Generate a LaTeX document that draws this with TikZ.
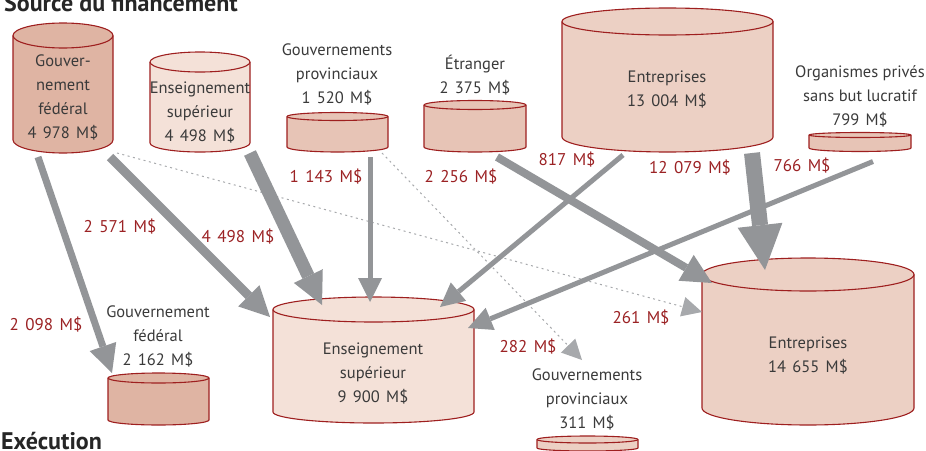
\documentclass[tikz,border=0pt]{standalone}
\usepackage{fontspec}
\setmainfont{PT Sans}
\usetikzlibrary{arrows.meta,positioning}

\definecolor{flowgray}{HTML}{939598}
\definecolor{dotgray}{HTML}{A7A9AC}
\definecolor{drumred}{HTML}{9E1F1F}
\definecolor{valred}{HTML}{9B2224}
\definecolor{textgray}{HTML}{3A3A3A}
\definecolor{fedfill}{HTML}{DFB4A3}
\definecolor{provfill}{HTML}{E7C4B6}
\definecolor{busfill}{HTML}{ECD0C4}
\definecolor{unifill}{HTML}{F4E1D8}

% wide gap in amounts
\newcommand{\gap}{\hspace{0.38em}}

% drum: name, left x, right x, top y, bottom y, top radius, bottom radius, fill
\newcommand{\drum}[8]{%
  \pgfmathsetmacro\drumrx{(#3-#2)/2}%
  \pgfmathsetmacro\drumxc{(#3+#2)/2}%
  \pgfmathsetmacro\drumtop{#4-#6}%
  \pgfmathsetmacro\drumbot{#5+#7}%
  \draw[drumline, fill=#8] (#2,#4) -- (#2,#5)
    arc[start angle=180, end angle=0, x radius=\drumrx, y radius=#7] -- (#3,#4)
    arc[start angle=0, end angle=-180, x radius=\drumrx, y radius=#6] -- cycle;
  \draw[drumline] (#2,#4) arc[start angle=180, end angle=0, x radius=\drumrx, y radius=#6];
  \node[inner sep=0pt, outer sep=0pt, minimum width={2*\drumrx pt},
    minimum height={(\drumbot-\drumtop)*1pt}] (#1) at (\drumxc,{(\drumtop+\drumbot)/2}) {};
}

\begin{document}
\begin{tikzpicture}[x=1pt, y=-1pt,
    drumline/.style={draw=drumred, line width=1.1pt, line join=round},
    flow/.style 2 args={draw=flowgray, line width=#1, -{Triangle[length=#2, width=#2, line width=0pt]}},
    side flow/.style={draw=dotgray, line width=1pt, dash pattern=on 2pt off 3.5pt, -{Triangle[length=#1, width=#1, line width=0pt]}},
    txt/.style={text=textgray, align=center, inner sep=0pt, font=\fontsize{16.5}{24}\selectfont},
    val/.style={text=valred, inner sep=0pt, font=\fontsize{17}{20}\selectfont},
    head/.style={text=black!85, inner sep=0pt, anchor=base west, font=\bfseries\fontsize{24}{28}\selectfont}
  ]
  \useasboundingbox (0,0) rectangle (926,450);

  % sources
  \drum{srcfed}{13}{113}{35.5}{140}{12.5}{13}{fedfill}
  \drum{srcuni}{150}{250}{62}{143}{10}{9}{unifill}
  \drum{srcprov}{287}{388}{116.5}{147}{4}{5}{provfill}
  \drum{srcfor}{424}{526}{105}{147}{4.5}{5}{provfill}
  \drum{srcbus}{562}{773}{21.5}{137}{13.5}{15}{busfill}
  \drum{srcnpo}{809}{911}{135}{148}{2.5}{3.5}{provfill}

  % execution
  \drum{exfed}{108}{209}{378}{420}{5}{5}{fedfill}
  \drum{exuni}{273}{474}{309.5}{412}{12.5}{11}{unifill}
  \drum{exprov}{537}{638}{439.5}{448}{3.5}{3}{busfill}
  \drum{exbus}{702}{914}{274.5}{408}{16.5}{17}{busfill}

  \node[txt] (srcfedtxt) at (63,97) {Gouver-\\nement\\fédéral\\4\gap978\gap M\$};
  \node[txt] (srcunitxt) at (200,112) {Enseignement\\supérieur\\4\gap498\gap M\$};
  \node[txt] (srcprovtxt) at (337,74) {Gouvernements\\provinciaux\\1\gap520\gap M\$};
  \node[txt] (srcfortxt) at (475,75) {Étranger\\2\gap375\gap M\$};
  \node[txt] (srcbustxt) at (667,89) {Entreprises\\13\gap004\gap M\$};
  \node[txt] (srcnpotxt) at (860,96) {Organismes privés\\sans but lucratif\\799\gap M\$};
  \node[txt] (exfedtxt) at (158,336) {Gouvernement\\fédéral\\2\gap162\gap M\$};
  \node[txt] (exunitxt) at (373,373) {Enseignement\\supérieur\\9\gap900\gap M\$};
  \node[txt] (exprovtxt) at (587,399) {Gouvernements\\provinciaux\\311\gap M\$};
  \node[txt] (exbustxt) at (808,355) {Entreprises\\14\gap655\gap M\$};

  % flows
  \draw[side flow=20pt] ([shift={(54,0)}]srcfed.south) -- ([shift={(-106,54)}]exbus.north);
  \draw[side flow=20pt] ([shift={(44.5,1)}]srcprov.south) -- ([shift={(-5.5,-76)}]exprov.north);
  \draw[flow={7pt}{28pt}] ([shift={(-25,4)}]srcfed.south) -- ([shift={(-46.5,0)}]exfed.north);
  \draw[flow={9pt}{30pt}] ([shift={(47,4)}]srcfed.south) -- ([shift={(-103.5,20)}]exuni.north);
  \draw[flow={13pt}{32pt}] ([shift={(50,1)}]srcuni.south) -- ([shift={(-51.5,8)}]exuni.north);
  \draw[flow={5pt}{24pt}] ([shift={(32.5,5)}]srcprov.south) -- ([shift={(-3.5,5)}]exuni.north);
  \draw[flow={8pt}{30pt}] ([shift={(22,5)}]srcfor.south) -- ([shift={(-96,25)}]exbus.north);
  \draw[flow={5pt}{24pt}] ([shift={(-44.5,3)}]srcbus.south) -- ([shift={(66.5,10)}]exuni.north);
  \draw[flow={16pt}{45pt}] ([shift={(84.5,1)}]srcbus.south) -- ([shift={(-43,12)}]exbus.north);
  \draw[flow={5pt}{24pt}] ([shift={(13,10)}]srcnpo.south) -- ([shift={(94.5,31)}]exuni.north);

  % amounts
  \node[val] (v2098) at (46,325) {2\gap098\gap M\$};
  \node[val] (v2571) at (120,227) {2\gap571\gap M\$};
  \node[val] (v4498) at (238,237) {4\gap498\gap M\$};
  \node[val] (v1143) at (326,177) {1\gap143\gap M\$};
  \node[val] (v2256) at (461,177) {2\gap256\gap M\$};
  \node[val] (v817) at (567,160) {817\gap M\$};
  \node[val] (v12079) at (690,168) {12\gap079\gap M\$};
  \node[val] (v766) at (802,166) {766\gap M\$};
  \node[val] (v261) at (641,318) {261\gap M\$};
  \node[val] (v282) at (528,347) {282\gap M\$};

  \node[head] (srchead) at (4,11) {Source du financement};
  \node[head] (exhead) at (1,449) {Exécution};
\end{tikzpicture}
\end{document}
